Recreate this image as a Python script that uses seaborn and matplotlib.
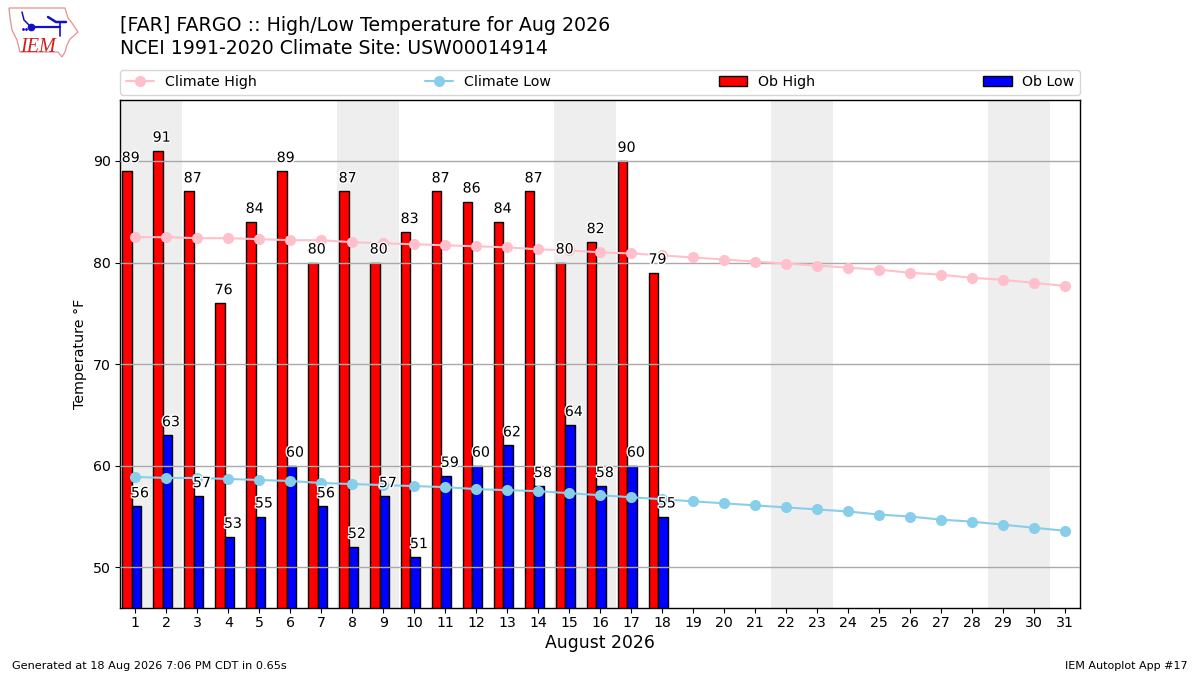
import matplotlib
matplotlib.use("Agg")
import matplotlib.pyplot as plt
import matplotlib.patheffects as pe
from matplotlib.patches import Polygon
import numpy as np
import pandas as pd
import seaborn as sns

days = list(range(1, 32))
ob_days = list(range(1, 19))
ob_high = [89, 91, 87, 76, 84, 89, 80, 87, 80, 83, 87, 86, 84, 87, 80, 82, 90, 79]
ob_low = [56, 63, 57, 53, 55, 60, 56, 52, 57, 51, 59, 60, 62, 58, 64, 58, 60, 55]
climate_high = [82.5, 82.5, 82.4, 82.4, 82.3, 82.2, 82.2, 82.0, 81.9, 81.8, 81.7,
                81.6, 81.5, 81.3, 81.2, 81.0, 80.9, 80.7, 80.5, 80.3, 80.1, 79.9,
                79.7, 79.5, 79.3, 79.0, 78.8, 78.5, 78.3, 78.0, 77.7]
climate_low = [58.9, 58.8, 58.8, 58.7, 58.6, 58.5, 58.3, 58.2, 58.1, 58.0, 57.9,
               57.7, 57.6, 57.5, 57.3, 57.1, 56.9, 56.7, 56.5, 56.3, 56.1, 55.9,
               55.7, 55.5, 55.2, 55.0, 54.7, 54.5, 54.2, 53.9, 53.6]
weekends = [(1, 2), (8, 9), (15, 16), (22, 23), (29, 30)]

sns.set_theme(style="white", rc={"axes.edgecolor": "black", "xtick.bottom": True,
                                 "ytick.left": True, "axes.linewidth": 1.0})
plt.rcParams["font.family"] = ["DejaVu Sans"]

fig = plt.figure(figsize=(12, 6.75), dpi=100)
ax = fig.add_axes([120.3 / 1200, 1 - 608 / 675, 959.7 / 1200, 508 / 675])

for a, b in weekends:
    ax.axvspan(a - 0.5, b + 0.5, color="#EEEEEE", lw=0, zorder=0)
ax.yaxis.grid(True, color="#AAAAAA", lw=1, zorder=1)
ax.set_axisbelow(False)

bars = pd.DataFrame({"day": ob_days, "high": ob_high, "low": ob_low})
clim = pd.DataFrame({"day": days, "high": climate_high, "low": climate_low})

ax.bar(bars["day"] - 0.42, bars["high"], width=0.3, align="edge", color="red",
       edgecolor="black", lw=1, zorder=2, label="Ob High")
ax.bar(bars["day"] - 0.12, bars["low"], width=0.3, align="edge", color="blue",
       edgecolor="black", lw=1, zorder=2, label="Ob Low")
sns.lineplot(data=clim, x="day", y="high", ax=ax, color="pink", marker="o", markersize=8,
             markeredgewidth=0, lw=1.5, zorder=3, label="Climate High", errorbar=None)
sns.lineplot(data=clim, x="day", y="low", ax=ax, color="skyblue", marker="o", markersize=8,
             markeredgewidth=0, lw=1.5, zorder=3, label="Climate Low", errorbar=None)

halo = [pe.withStroke(linewidth=2, foreground="white")]
for d, hi, lo in zip(ob_days, ob_high, ob_low):
    ax.text(d - 0.15, hi + 0.6, str(hi), ha="center", va="bottom", fontsize=10.2,
            color="black", zorder=5, path_effects=halo)
    ax.text(d + 0.15, lo + 0.6, str(lo), ha="center", va="bottom", fontsize=10.2,
            color="black", zorder=5, path_effects=halo)

ax.set_xlim(0.516, 31.484)
ax.set_ylim(46, 96)
ax.set_xticks(days)
ax.set_yticks([50, 60, 70, 80, 90])
ax.tick_params(axis="both", labelsize=10.2, length=3.5, width=0.8, color="black",
               labelcolor="black")
ax.tick_params(axis="x", pad=2.5)
ax.tick_params(axis="y", pad=3.5)
ax.set_xlabel("August 2026", fontsize=12.4, color="black", labelpad=3)
ax.set_ylabel("Temperature \u00b0F", fontsize=10.3, color="black", labelpad=4)

handles, labels = ax.get_legend_handles_labels()
order = [labels.index(n) for n in ["Climate High", "Climate Low", "Ob High", "Ob Low"]]
ax.legend([handles[i] for i in order], [labels[i] for i in order], ncol=4, mode="expand",
          loc="lower left", bbox_to_anchor=(0, 1.0098, 1, 0.05), borderaxespad=0, fontsize=10.2,
          handlelength=2, handletextpad=0.75, frameon=True, framealpha=0.8,
          edgecolor="#CCCCCC", labelcolor="black")

fig.text(120 / 1200, 1 - 31 / 675, "[FAR] FARGO :: High/Low Temperature for Aug 2026",
         fontsize=13.65, color="black", ha="left", va="baseline")
fig.text(120 / 1200, 1 - 54 / 675, "NCEI 1991-2020 Climate Site: USW00014914",
         fontsize=13.6, color="black", ha="left", va="baseline")
fig.text(12 / 1200, 1 - 669 / 675, "Generated at 18 Aug 2026 7:06 PM CDT in 0.65s",
         fontsize=8.12, color="black", ha="left", va="baseline")
fig.text(1188 / 1200, 1 - 669 / 675, "IEM Autoplot App #17",
         fontsize=8, color="black", ha="right", va="baseline")

# small IEM logo, in figure pixel space
def px(pts):
    return [(x / 1200, 1 - y / 675) for x, y in pts]

def logo_line(pts, **kw):
    xy = px(pts)
    fig.add_artist(plt.Line2D([p[0] for p in xy], [p[1] for p in xy], color="#1010CC", **kw))

outline = [(9, 8), (65, 8), (68, 18), (72, 23), (78, 32), (70, 39), (67, 45), (65, 52), (62, 57),
           (58, 52), (20, 52), (17, 40), (12, 30), (10, 18)]
fig.add_artist(Polygon(px(outline), closed=True, fc="white", ec="#E59090", lw=0.9,
                       transform=fig.transFigure))
logo_line([(31, 27), (60, 27)], lw=1.6)
logo_line([(31, 27)], marker="o", ms=4.5)
logo_line([(48, 17), (56, 22), (66, 22)], lw=1.8)
logo_line([(60, 22), (60, 36)], lw=1.2)
logo_line([(22, 12), (24, 20), (31, 27)], lw=1.1)
logo_line([(23, 29), (26, 29)], marker=".", ms=2, lw=0)
fig.text(37.5 / 1200, 1 - 52 / 675, "IEM", fontsize=14.5, family="Liberation Serif", style="italic",
         color="#D02020", ha="center", va="baseline")

fig.savefig("out.png", dpi=100)
